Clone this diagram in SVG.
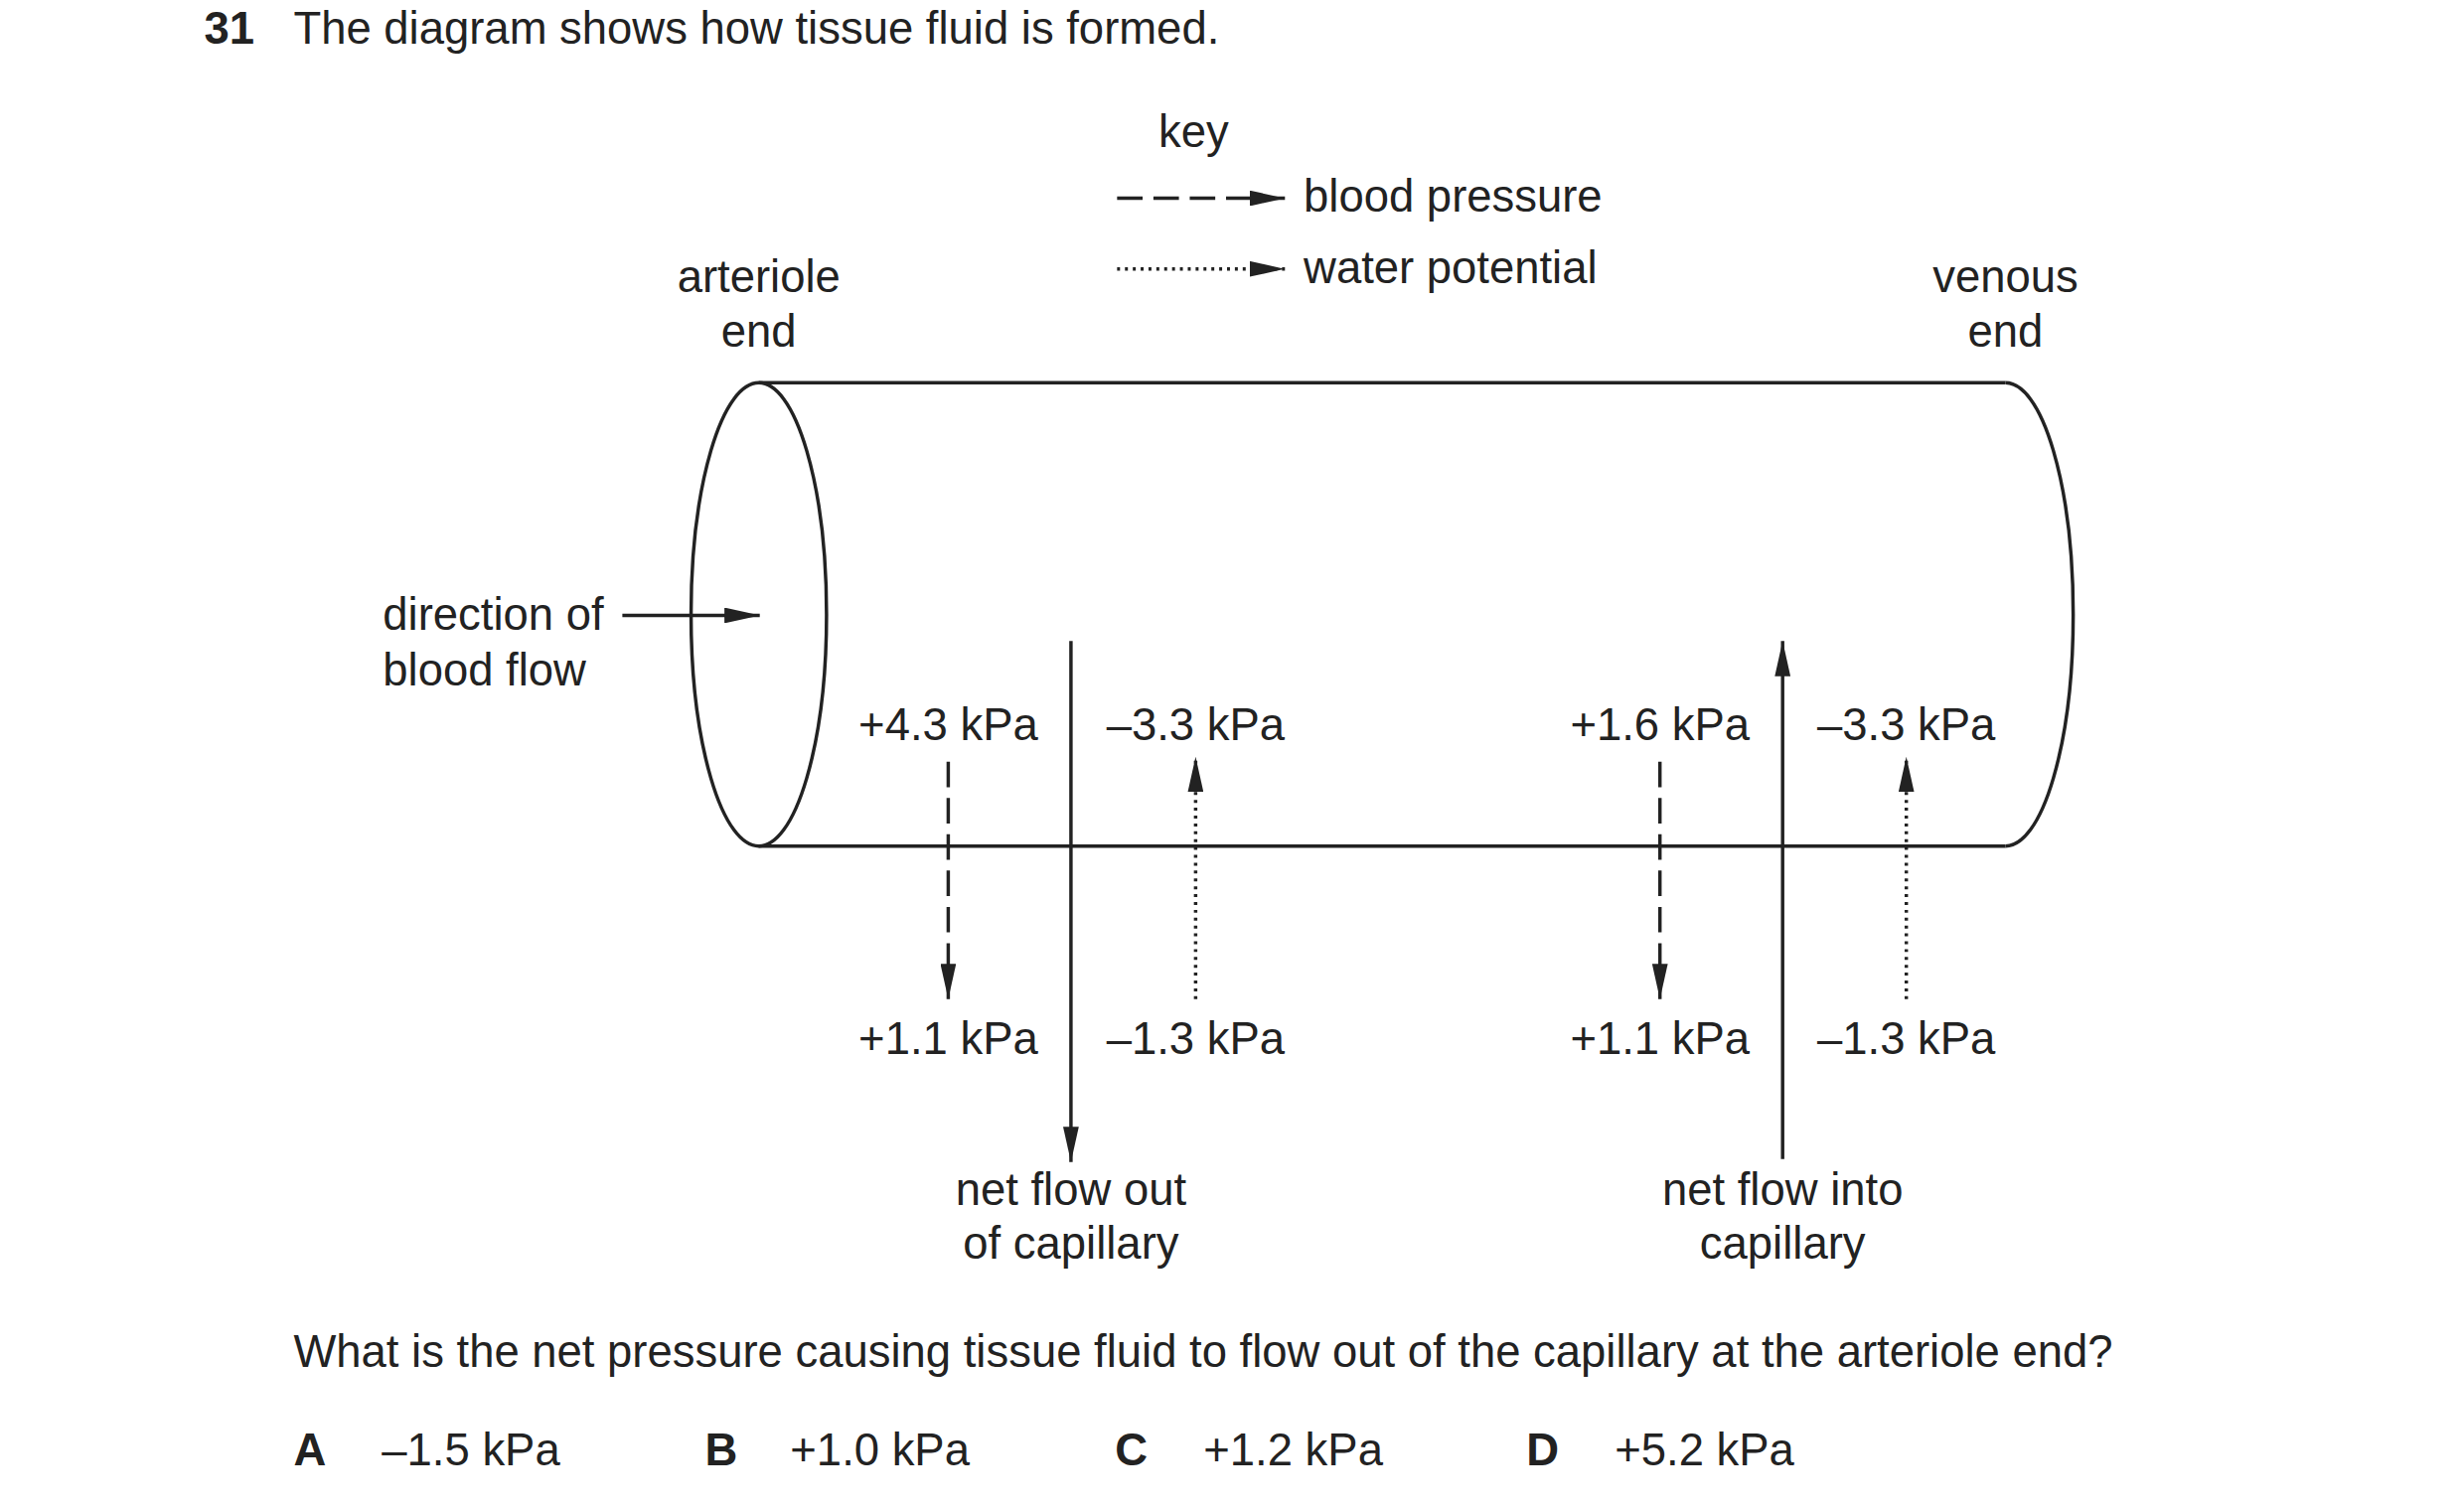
<svg xmlns="http://www.w3.org/2000/svg" width="2480" height="1518" viewBox="0 0 2480 1518">
<style>
text{font-family:"Liberation Sans",Arial,sans-serif;font-size:46px;fill:#222}
.b{font-weight:bold}
.m{text-anchor:middle}
.ln{stroke:#222;stroke-width:3.5;fill:none}
.dash{stroke:#222;stroke-width:3.5;stroke-dasharray:26 11;fill:none}
.dot{stroke:#222;stroke-width:3.5;stroke-dasharray:3 5;fill:none}
</style>
<defs>
<marker id="ah" viewBox="0 0 36 16" refX="36" refY="8" markerWidth="36" markerHeight="16" markerUnits="userSpaceOnUse" orient="auto"><path d="M0,0 L36,8 L0,16 Z" fill="#222"/></marker>
</defs>
<rect width="2480" height="1518" fill="#fff"/>
<g transform="scale(0.988)">
<text class="b" x="208" y="45">31</text>
<text x="299" y="45">The diagram shows how tissue fluid is formed.</text>
<g id="key">
<text class="m" x="1216" y="150">key</text>
<line class="dash" x1="1138" y1="202" x2="1309" y2="202" marker-end="url(#ah)"/>
<text x="1328" y="216">blood pressure</text>
<line class="dot" x1="1138" y1="274" x2="1309" y2="274" marker-end="url(#ah)"/>
<text x="1328" y="288">water potential</text>
</g>
<g id="capillary">
<line class="ln" x1="773" y1="390" x2="2043" y2="390"/>
<line class="ln" x1="773" y1="862" x2="2043" y2="862"/>
<ellipse class="ln" cx="773" cy="626" rx="69" ry="236"/>
<path class="ln" d="M2043,390 A69,236 0 0 1 2043,862"/>
</g>
<g id="labels">
<text class="m" x="773" y="298">arteriole</text>
<text class="m" x="773" y="353">end</text>
<text class="m" x="2043" y="298">venous</text>
<text class="m" x="2043" y="353">end</text>
<text x="390" y="642">direction of</text>
<text x="390" y="698">blood flow</text>
<text class="m" x="966" y="754">+4.3 kPa</text>
<text class="m" x="1218" y="754">–3.3 kPa</text>
<text class="m" x="1691" y="754">+1.6 kPa</text>
<text class="m" x="1942" y="754">–3.3 kPa</text>
<text class="m" x="966" y="1074">+1.1 kPa</text>
<text class="m" x="1218" y="1074">–1.3 kPa</text>
<text class="m" x="1691" y="1074">+1.1 kPa</text>
<text class="m" x="1942" y="1074">–1.3 kPa</text>
<text class="m" x="1091" y="1228">net flow out</text>
<text class="m" x="1091" y="1282">of capillary</text>
<text class="m" x="1816" y="1228">net flow into</text>
<text class="m" x="1816" y="1282">capillary</text>
</g>
<g id="connectors">
<line class="ln" x1="634" y1="627" x2="774" y2="627" marker-end="url(#ah)"/>
<line class="dash" x1="966" y1="776" x2="966" y2="1018" marker-end="url(#ah)"/>
<line class="dot" x1="1218" y1="1018" x2="1218" y2="771" marker-end="url(#ah)"/>
<line class="dash" x1="1691" y1="776" x2="1691" y2="1018" marker-end="url(#ah)"/>
<line class="dot" x1="1942" y1="1018" x2="1942" y2="771" marker-end="url(#ah)"/>
<line class="ln" x1="1091" y1="653" x2="1091" y2="1184" marker-end="url(#ah)"/>
<line class="ln" x1="1816" y1="1181" x2="1816" y2="653" marker-end="url(#ah)"/>
</g>
<text x="299" y="1393">What is the net pressure causing tissue fluid to flow out of the capillary at the arteriole end?</text>
<text class="b" x="299" y="1493">A</text><text x="389" y="1493">–1.5 kPa</text>
<text class="b" x="718" y="1493">B</text><text x="805" y="1493">+1.0 kPa</text>
<text class="b" x="1136" y="1493">C</text><text x="1226" y="1493">+1.2 kPa</text>
<text class="b" x="1555" y="1493">D</text><text x="1645" y="1493">+5.2 kPa</text>
</g>
</svg>
